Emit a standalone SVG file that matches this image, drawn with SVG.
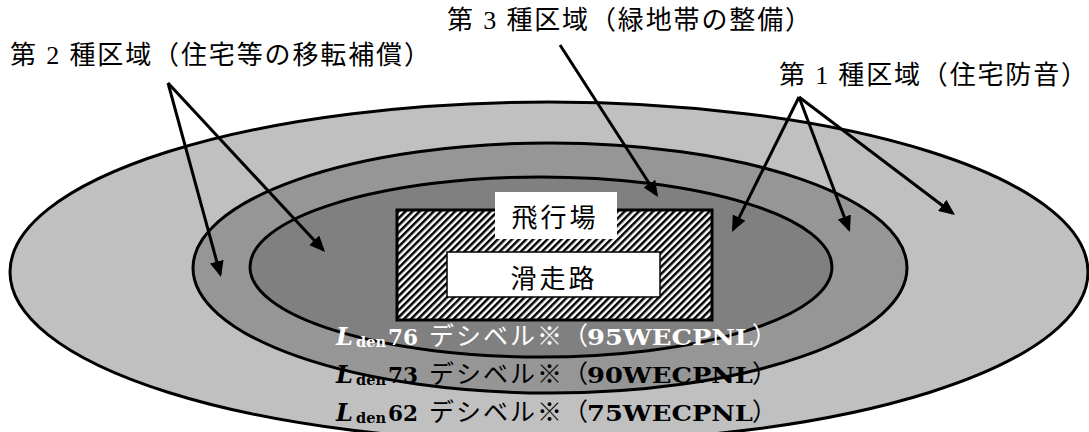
<svg xmlns="http://www.w3.org/2000/svg" width="1089" height="432" viewBox="0 0 1089 432">
<style>
.zone{stroke:#000;stroke-width:3}
.lbl{font-family:'Liberation Serif','Noto Sans CJK JP',serif;font-size:26px;fill:#000}
.jp{font-family:'Noto Sans CJK JP',sans-serif;font-size:25px}
.lat{font-family:'DejaVu Serif',serif;font-weight:bold;font-size:23px}
.it{font-family:'DejaVu Serif',serif;font-weight:bold;font-style:italic;font-size:24px}
.sub{font-family:'DejaVu Serif',serif;font-weight:bold;font-size:14px}
.arr{stroke:#000;stroke-width:3;fill:none;marker-end:url(#ah)}
.w{fill:#fff}
.k{fill:#000}
</style>
<defs>
<pattern id="hatch" patternUnits="userSpaceOnUse" width="5" height="10" patternTransform="rotate(45)">
<rect width="5" height="10" fill="#fff"/>
<rect width="2.5" height="10" fill="#000"/>
</pattern>
<marker id="ah" markerUnits="userSpaceOnUse" markerWidth="17" markerHeight="14" refX="13" refY="7" orient="auto">
<path d="M0,0 L16,7 L0,14 Z" fill="#000"/>
</marker>
</defs>
<g id="zone1"><ellipse class="zone" cx="549" cy="272" rx="539" ry="170" fill="#c0c0c0"/></g>
<g id="zone2"><ellipse class="zone" cx="550" cy="268" rx="357" ry="125" fill="#969696"/></g>
<g id="zone3"><ellipse class="zone" cx="541" cy="267" rx="291" ry="90" fill="#808080"/></g>
<g id="airport">
<rect x="397" y="210" width="315" height="110" fill="url(#hatch)" stroke="#000" stroke-width="3"/>
<rect x="495" y="192" width="122" height="47" fill="#fff"/>
<text class="lbl" x="555" y="227" text-anchor="middle" font-size="25" letter-spacing="3">飛行場</text>
</g>
<g id="runway">
<rect x="447" y="252" width="213" height="45" fill="#fff" stroke="#000" stroke-width="1.5"/>
<text class="lbl" x="554" y="288" text-anchor="middle" font-size="25" letter-spacing="3">滑走路</text>
</g>
<g id="label2"><text class="lbl" x="10" y="64" textLength="420" lengthAdjust="spacing">第 2 種区域（住宅等の移転補償）</text></g>
<g id="label3"><text class="lbl" x="447" y="29" textLength="364" lengthAdjust="spacing">第 3 種区域（緑地帯の整備）</text></g>
<g id="label1"><text class="lbl" x="779" y="84" textLength="308" lengthAdjust="spacing">第 1 種区域（住宅防音）</text></g>
<g id="connectors">
<line class="arr" x1="168" y1="83" x2="220.2" y2="274.1"/>
<line class="arr" x1="168" y1="83" x2="323" y2="249.8"/>
<line class="arr" x1="560" y1="45" x2="656.4" y2="194.5"/>
<line class="arr" x1="799" y1="97" x2="733.3" y2="229.3"/>
<line class="arr" x1="799" y1="97" x2="848.9" y2="229.2"/>
<line class="arr" x1="799" y1="97" x2="952.6" y2="213.2"/>
</g>
<g id="levels">
<g class="w">
<text class="it" x="336" y="345">L</text>
<text class="sub" x="356" y="347" textLength="30" lengthAdjust="spacingAndGlyphs">den</text>
<text class="lat" x="388" y="345" textLength="30" lengthAdjust="spacingAndGlyphs">76</text>
<text class="jp" x="429" y="345" textLength="133" lengthAdjust="spacing">デシベル※</text>
<text class="jp" x="563" y="345">（</text>
<text class="lat" x="587" y="345" textLength="166" lengthAdjust="spacingAndGlyphs">95WECPNL</text>
<text class="jp" x="752" y="345">）</text>
</g>
<g class="k">
<text class="it" x="336" y="383">L</text>
<text class="sub" x="356" y="385" textLength="30" lengthAdjust="spacingAndGlyphs">den</text>
<text class="lat" x="388" y="383" textLength="30" lengthAdjust="spacingAndGlyphs">73</text>
<text class="jp" x="429" y="383" textLength="133" lengthAdjust="spacing">デシベル※</text>
<text class="jp" x="563" y="383">（</text>
<text class="lat" x="587" y="383" textLength="166" lengthAdjust="spacingAndGlyphs">90WECPNL</text>
<text class="jp" x="752" y="383">）</text>
</g>
<g class="k">
<text class="it" x="336" y="421">L</text>
<text class="sub" x="356" y="423" textLength="30" lengthAdjust="spacingAndGlyphs">den</text>
<text class="lat" x="388" y="421" textLength="30" lengthAdjust="spacingAndGlyphs">62</text>
<text class="jp" x="429" y="421" textLength="133" lengthAdjust="spacing">デシベル※</text>
<text class="jp" x="563" y="421">（</text>
<text class="lat" x="587" y="421" textLength="166" lengthAdjust="spacingAndGlyphs">75WECPNL</text>
<text class="jp" x="752" y="421">）</text>
</g>
</g>
</svg>
